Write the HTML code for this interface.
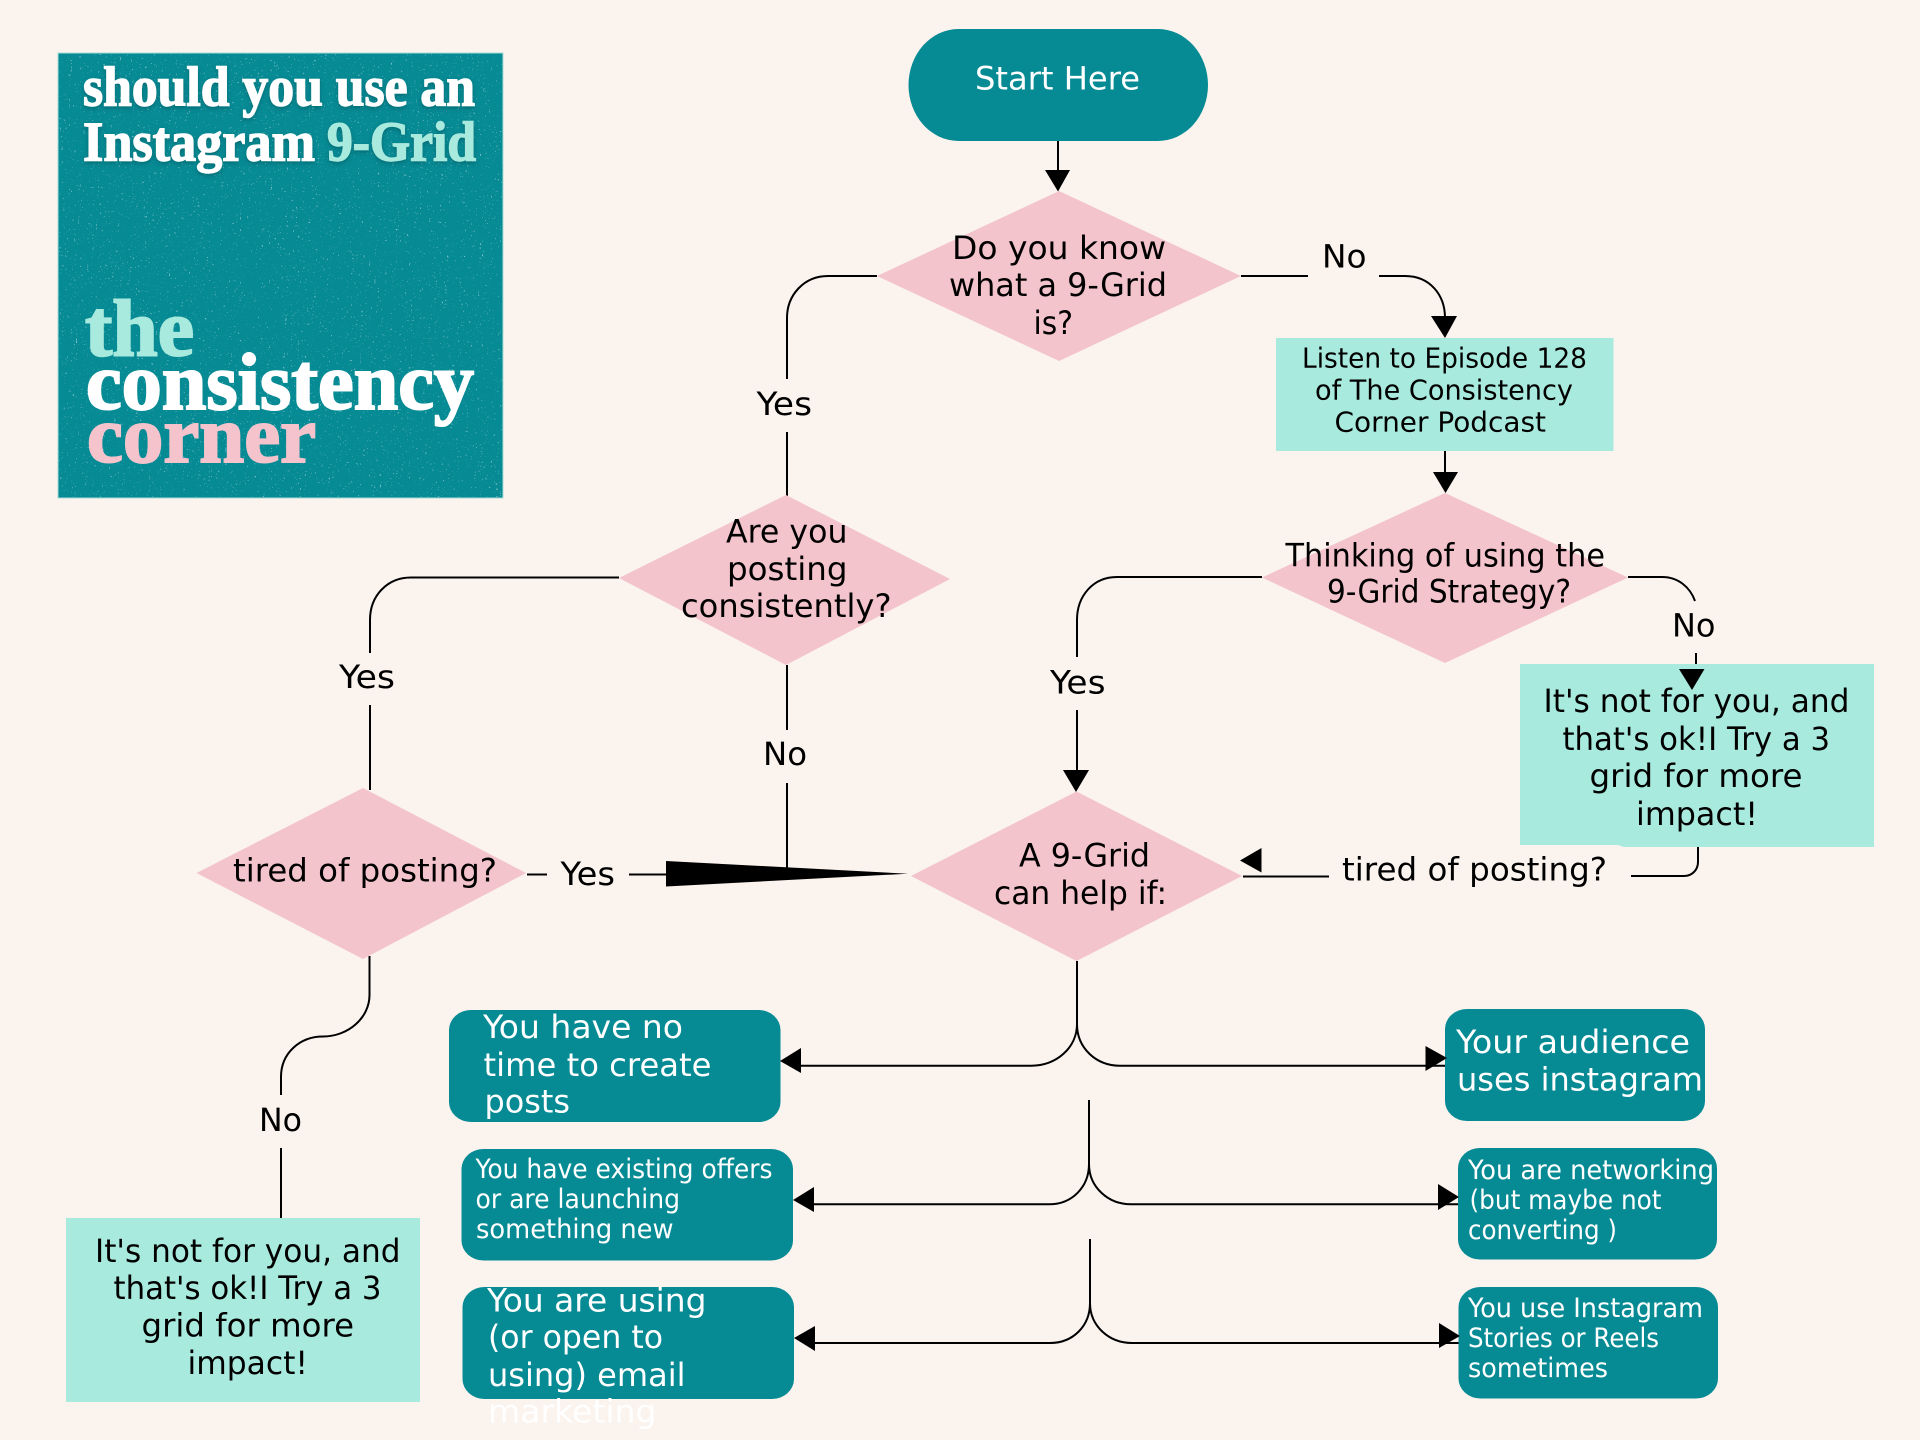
<!DOCTYPE html>
<html>
<head>
<meta charset="utf-8">
<style>
html,body{margin:0;padding:0;background:#fbf3ee;}
svg{display:block;}
text{font-family:"DejaVu Sans","Liberation Sans",sans-serif;}
.k{fill:#000;font-size:32px;}
.m{fill:#000;font-size:27.5px;}
.w{fill:#fff;font-size:32px;}
.s{fill:#fff;font-size:26.5px;}
.t{font-family:"Liberation Serif",serif;font-weight:700;}
.c{fill:none;stroke:#000;stroke-width:2;}
</style>
</head>
<body>
<svg xmlns="http://www.w3.org/2000/svg" width="1920" height="1440" viewBox="0 0 1920 1440">
<defs>
<filter id="sp" x="0" y="0" width="100%" height="100%" color-interpolation-filters="sRGB">
<feTurbulence type="fractalNoise" baseFrequency="0.55" numOctaves="2" seed="7"/>
<feColorMatrix type="matrix" values="0 0 0 0 1  0 0 0 0 1  0 0 0 0 1  6 6 0 0 -7.6"/>
</filter>
<filter id="sh" x="-5%" y="-20%" width="110%" height="150%">
<feDropShadow dx="0" dy="2" stdDeviation="2" flood-color="#04444a" flood-opacity="0.45"/>
</filter>
</defs>
<rect width="1920" height="1440" fill="#fbf3ee"/>

<!-- title card -->
<rect x="58" y="53" width="445" height="445" fill="#068a94" stroke="#a9dcd8" stroke-width="1"/>
<rect x="59" y="54" width="443" height="443" filter="url(#sp)" opacity="0.5"/>
<g filter="url(#sh)">
<text class="t" x="83" y="105.5" font-size="56" fill="#fff" stroke="#fff" stroke-width="1.4" textLength="392" lengthAdjust="spacingAndGlyphs">should you use an</text>
<text class="t" x="83" y="160.5" font-size="56" fill="#fff" stroke="#fff" stroke-width="1.4" textLength="232" lengthAdjust="spacingAndGlyphs">Instagram</text>
<text class="t" x="327" y="160.5" font-size="56" fill="#a9eade" stroke="#a9eade" stroke-width="1.4" textLength="149" lengthAdjust="spacingAndGlyphs">9-Grid</text>
</g>
<text class="t" x="85" y="355.5" font-size="80" fill="#a9eade" stroke="#a9eade" stroke-width="2" textLength="109" lengthAdjust="spacingAndGlyphs">the</text>
<text class="t" x="86" y="409" font-size="80" fill="#fff" stroke="#fff" stroke-width="2" textLength="388" lengthAdjust="spacingAndGlyphs">consistency</text>
<text class="t" x="87" y="462" font-size="80" fill="#f4c3cc" stroke="#f4c3cc" stroke-width="2" textLength="229" lengthAdjust="spacingAndGlyphs">corner</text>

<!-- connectors -->
<path class="c" d="M1058,141 V172"/>
<path class="c" d="M1241,276 H1308"/>
<path class="c" d="M1379,276 H1405 C1430,276 1445,295 1445,318"/>
<path class="c" d="M1445,451 V474"/>
<path class="c" d="M877,276 H828 C804,276 787,295 787,318 V379"/>
<path class="c" d="M787,432 V496"/>
<path class="c" d="M1262,577 H1117 C1093,577 1077,596 1077,620 V657"/>
<path class="c" d="M1077,710 V772"/>
<path class="c" d="M1628,577 H1662 C1678,577 1690,587 1695,601"/>
<path class="c" d="M1696,653 V665"/>
<path class="c" d="M1698,846 V862 C1698,870 1692,876 1684,876 H1631"/>
<path class="c" d="M1329,876.5 H1243"/>
<path class="c" d="M619,577.5 H411 C387,577.5 370,596 370,620 V653"/>
<path class="c" d="M370,705 V790"/>
<path class="c" d="M787,665 V730"/>
<path class="c" d="M787,783 V868"/>
<path class="c" d="M527,874.5 H547"/>
<path class="c" d="M629,874.5 H668"/>
<path class="c" d="M369.5,956 V995 C369.5,1018 348,1036.5 323,1036.5 C300,1036.5 281,1053 281,1077 V1095"/>
<path class="c" d="M281,1148 V1218"/>
<path class="c" d="M1077,961 V1024 C1077,1048 1056,1065.7 1031,1065.7 H801"/>
<path class="c" d="M1077,1024 C1077,1048 1096,1065.7 1120,1065.7 H1447"/>
<path class="c" d="M1089,1100 V1164 C1089,1187 1072,1204.3 1049,1204.3 H814"/>
<path class="c" d="M1089,1164 C1089,1187 1108,1204.3 1131,1204.3 H1458"/>
<path class="c" d="M1090,1239 V1303 C1090,1326 1073,1343 1050,1343 H815"/>
<path class="c" d="M1090,1303 C1090,1326 1109,1343 1132,1343 H1459"/>

<!-- shapes -->
<rect x="908.5" y="29" width="299.5" height="112" rx="50" ry="56" fill="#068a94"/>
<polygon points="1059,191 1241,276 1059,361 877,276" fill="#f3c4cc"/>
<rect x="1276" y="338" width="337.5" height="113" fill="#a9eade"/>
<polygon points="1445,493 1628,577.5 1445,663 1262,577.5" fill="#f3c4cc"/>
<polygon points="786,495 950,579 786,665 619,578" fill="#f3c4cc"/>
<polygon points="1076.5,791.5 1242,876 1076.5,961 911,876" fill="#f3c4cc"/>
<polygon points="363,788 526,873 363,959 196.5,873" fill="#f3c4cc"/>
<polygon points="1520,664 1874,664 1874,847 1624,847 1618,845 1520,845" fill="#a9eade"/>
<rect x="66" y="1218" width="354" height="184" fill="#a9eade"/>

<rect x="449" y="1010" width="331.5" height="112" rx="22" ry="20" fill="#068a94"/>
<rect x="461.5" y="1149" width="331.5" height="111.5" rx="22" ry="20" fill="#068a94"/>
<rect x="462.5" y="1287" width="331.5" height="112" rx="22" ry="20" fill="#068a94"/>
<rect x="1445" y="1009" width="260" height="112" rx="22" ry="20" fill="#068a94"/>
<rect x="1458" y="1148" width="259" height="111.5" rx="22" ry="20" fill="#068a94"/>
<rect x="1458.5" y="1287" width="259.5" height="111.5" rx="22" ry="20" fill="#068a94"/>

<!-- arrowheads -->
<g fill="#000">
<polygon points="1045,170 1070,170 1058,191.5"/>
<polygon points="1431,316 1457,316 1445,338"/>
<polygon points="1433,472 1458,472 1445.5,493"/>
<polygon points="1063,770 1089,770 1076,792"/>
<polygon points="1679,669 1704.5,669 1692,690"/>
<polygon points="666,861 666,886.5 908,873.7"/>
<polygon points="1240,860.5 1261.5,848 1261.5,872.5"/>
<polygon points="780,1061 801,1048 801,1073"/>
<polygon points="1447,1058 1425.5,1046 1425.5,1071"/>
<polygon points="793,1200 814,1187 814,1212"/>
<polygon points="1459,1197 1438,1184 1438,1210"/>
<polygon points="794,1338 815,1326 815,1351"/>
<polygon points="1460,1336 1439,1323 1439,1348"/>
</g>

<!-- labels -->
<text class="w" x="975" y="89.5" textLength="165" lengthAdjust="spacingAndGlyphs">Start Here</text>

<text class="k" x="952" y="259" textLength="214" lengthAdjust="spacingAndGlyphs">Do you know</text>
<text class="k" x="949" y="296" textLength="218" lengthAdjust="spacingAndGlyphs">what a 9-Grid</text>
<text class="k" x="1033.5" y="334" textLength="39.5" lengthAdjust="spacingAndGlyphs">is?</text>

<text class="k" x="1322" y="267.5" textLength="44.5" lengthAdjust="spacingAndGlyphs">No</text>

<text class="m" x="1302" y="367.5" textLength="285" lengthAdjust="spacingAndGlyphs">Listen to Episode 128</text>
<text class="m" x="1315" y="399.5" textLength="258" lengthAdjust="spacingAndGlyphs">of The Consistency</text>
<text class="m" x="1334.5" y="431.5" textLength="211.5" lengthAdjust="spacingAndGlyphs">Corner Podcast</text>

<text class="k" x="1285.5" y="566.5" textLength="319.5" lengthAdjust="spacingAndGlyphs">Thinking of using the</text>
<text class="k" x="1327" y="602.5" textLength="244" lengthAdjust="spacingAndGlyphs">9-Grid Strategy?</text>

<text class="k" x="1672" y="636.5" textLength="43.5" lengthAdjust="spacingAndGlyphs">No</text>

<text class="k" x="1543.5" y="712" textLength="306" lengthAdjust="spacingAndGlyphs">It's not for you, and</text>
<text class="k" x="1562.5" y="750" textLength="267.5" lengthAdjust="spacingAndGlyphs">that's ok!I Try a 3</text>
<text class="k" x="1589.5" y="787" textLength="213" lengthAdjust="spacingAndGlyphs">grid for more</text>
<text class="k" x="1636" y="825" textLength="122" lengthAdjust="spacingAndGlyphs">impact!</text>

<text class="k" x="1342" y="880.5" textLength="265" lengthAdjust="spacingAndGlyphs">tired of posting?</text>

<text class="k" x="1019" y="866.5" textLength="131" lengthAdjust="spacingAndGlyphs">A 9-Grid</text>
<text class="k" x="994" y="904" textLength="173" lengthAdjust="spacingAndGlyphs">can help if:</text>

<text class="k" x="726" y="542.5" textLength="121.5" lengthAdjust="spacingAndGlyphs">Are you</text>
<text class="k" x="727" y="580" textLength="120.5" lengthAdjust="spacingAndGlyphs">posting</text>
<text class="k" x="681" y="617" textLength="210.5" lengthAdjust="spacingAndGlyphs">consistently?</text>

<text class="k" x="756.5" y="415" textLength="55.5" lengthAdjust="spacingAndGlyphs">Yes</text>
<text class="k" x="1050" y="693.5" textLength="55.5" lengthAdjust="spacingAndGlyphs">Yes</text>
<text class="k" x="339" y="688" textLength="56" lengthAdjust="spacingAndGlyphs">Yes</text>
<text class="k" x="763" y="765" textLength="44" lengthAdjust="spacingAndGlyphs">No</text>

<text class="k" x="233" y="881.5" textLength="264" lengthAdjust="spacingAndGlyphs">tired of posting?</text>
<text class="k" x="560.5" y="885" textLength="54.5" lengthAdjust="spacingAndGlyphs">Yes</text>
<text class="k" x="259" y="1131" textLength="43" lengthAdjust="spacingAndGlyphs">No</text>

<text class="k" x="95" y="1262" textLength="305.5" lengthAdjust="spacingAndGlyphs">It's not for you, and</text>
<text class="k" x="113.5" y="1299" textLength="268" lengthAdjust="spacingAndGlyphs">that's ok!I Try a 3</text>
<text class="k" x="141.5" y="1336.5" textLength="212.5" lengthAdjust="spacingAndGlyphs">grid for more</text>
<text class="k" x="187.5" y="1374" textLength="120.5" lengthAdjust="spacingAndGlyphs">impact!</text>

<text class="w" x="483" y="1038" textLength="200" lengthAdjust="spacingAndGlyphs">You have no</text>
<text class="w" x="483.5" y="1076" textLength="228" lengthAdjust="spacingAndGlyphs">time to create</text>
<text class="w" x="484.5" y="1112.5" textLength="85.5" lengthAdjust="spacingAndGlyphs">posts</text>

<text class="s" x="475.5" y="1178" textLength="297" lengthAdjust="spacingAndGlyphs">You have existing offers</text>
<text class="s" x="475.5" y="1208" textLength="204.5" lengthAdjust="spacingAndGlyphs">or are launching</text>
<text class="s" x="476" y="1238" textLength="197.5" lengthAdjust="spacingAndGlyphs">something new</text>

<text class="w" x="487" y="1311.5" textLength="219.5" lengthAdjust="spacingAndGlyphs">You are using</text>
<text class="w" x="488" y="1348" textLength="175" lengthAdjust="spacingAndGlyphs">(or open to</text>
<text class="w" x="488" y="1386" textLength="197.5" lengthAdjust="spacingAndGlyphs">using) email</text>
<text class="w" x="488" y="1422.5" textLength="168.5" lengthAdjust="spacingAndGlyphs">marketing</text>

<text class="w" x="1456" y="1053" textLength="234" lengthAdjust="spacingAndGlyphs">Your audience</text>
<text class="w" x="1457" y="1090.5" textLength="246" lengthAdjust="spacingAndGlyphs">uses instagram</text>

<text class="s" x="1468" y="1179" textLength="246" lengthAdjust="spacingAndGlyphs">You are networking</text>
<text class="s" x="1469.5" y="1209" textLength="192" lengthAdjust="spacingAndGlyphs">(but maybe not</text>
<text class="s" x="1468" y="1239" textLength="149" lengthAdjust="spacingAndGlyphs">converting )</text>

<text class="s" x="1468" y="1317" textLength="235" lengthAdjust="spacingAndGlyphs">You use Instagram</text>
<text class="s" x="1468" y="1347" textLength="191" lengthAdjust="spacingAndGlyphs">Stories or Reels</text>
<text class="s" x="1468" y="1377" textLength="140" lengthAdjust="spacingAndGlyphs">sometimes</text>
</svg>
</body>
</html>
